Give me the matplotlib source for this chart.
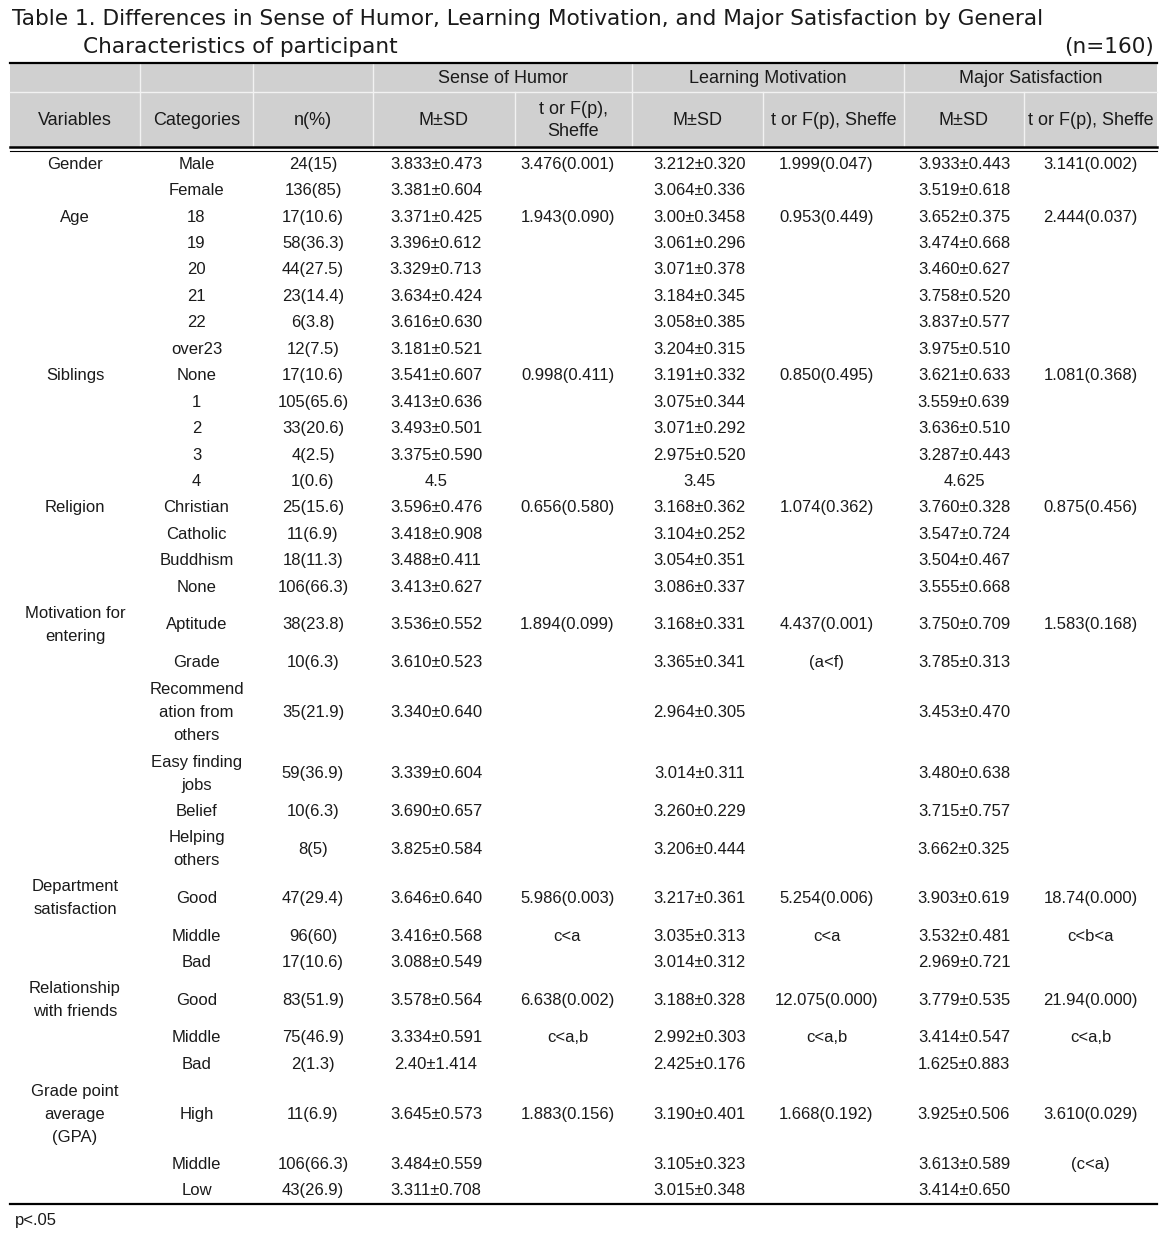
import matplotlib
matplotlib.use('Agg')
import matplotlib.pyplot as plt
from matplotlib import font_manager


# ---- data ----
group_labels = ['Gender', 'Age', 'Siblings', 'Religion', 'Motivation for\nentering',
                'Department\nsatisfaction', 'Relationship\nwith friends',
                'Grade point\naverage\n(GPA)']
group_sizes = [2, 6, 5, 4, 6, 3, 3, 3]

categories = ['Male', 'Female',
              '18', '19', '20', '21', '22', 'over23',
              'None', '1', '2', '3', '4',
              'Christian', 'Catholic', 'Buddhism', 'None',
              'Aptitude', 'Grade', 'Recommend\nation from\nothers', 'Easy finding\njobs', 'Belief',
              'Helping\nothers',
              'Good', 'Middle', 'Bad',
              'Good', 'Middle', 'Bad',
              'High', 'Middle', 'Low']

n_pct = ['24(15)', '136(85)',
         '17(10.6)', '58(36.3)', '44(27.5)', '23(14.4)', '6(3.8)', '12(7.5)',
         '17(10.6)', '105(65.6)', '33(20.6)', '4(2.5)', '1(0.6)',
         '25(15.6)', '11(6.9)', '18(11.3)', '106(66.3)',
         '38(23.8)', '10(6.3)', '35(21.9)', '59(36.9)', '10(6.3)', '8(5)',
         '47(29.4)', '96(60)', '17(10.6)',
         '83(51.9)', '75(46.9)', '2(1.3)',
         '11(6.9)', '106(66.3)', '43(26.9)']

humor_msd = ['3.833±0.473', '3.381±0.604',
             '3.371±0.425', '3.396±0.612', '3.329±0.713', '3.634±0.424', '3.616±0.630', '3.181±0.521',
             '3.541±0.607', '3.413±0.636', '3.493±0.501', '3.375±0.590', '4.5',
             '3.596±0.476', '3.418±0.908', '3.488±0.411', '3.413±0.627',
             '3.536±0.552', '3.610±0.523', '3.340±0.640', '3.339±0.604', '3.690±0.657', '3.825±0.584',
             '3.646±0.640', '3.416±0.568', '3.088±0.549',
             '3.578±0.564', '3.334±0.591', '2.40±1.414',
             '3.645±0.573', '3.484±0.559', '3.311±0.708']

humor_test = ['3.476(0.001)', '',
              '1.943(0.090)', '', '', '', '', '',
              '0.998(0.411)', '', '', '', '',
              '0.656(0.580)', '', '', '',
              '1.894(0.099)', '', '', '', '', '',
              '5.986(0.003)', 'c<a', '',
              '6.638(0.002)', 'c<a,b', '',
              '1.883(0.156)', '', '']

learn_msd = ['3.212±0.320', '3.064±0.336',
             '3.00±0.3458', '3.061±0.296', '3.071±0.378', '3.184±0.345', '3.058±0.385', '3.204±0.315',
             '3.191±0.332', '3.075±0.344', '3.071±0.292', '2.975±0.520', '3.45',
             '3.168±0.362', '3.104±0.252', '3.054±0.351', '3.086±0.337',
             '3.168±0.331', '3.365±0.341', '2.964±0.305', '3.014±0.311', '3.260±0.229', '3.206±0.444',
             '3.217±0.361', '3.035±0.313', '3.014±0.312',
             '3.188±0.328', '2.992±0.303', '2.425±0.176',
             '3.190±0.401', '3.105±0.323', '3.015±0.348']

learn_test = ['1.999(0.047)', '',
              '0.953(0.449)', '', '', '', '', '',
              '0.850(0.495)', '', '', '', '',
              '1.074(0.362)', '', '', '',
              '4.437(0.001)', '(a<f)', '', '', '', '',
              '5.254(0.006)', 'c<a', '',
              '12.075(0.000)', 'c<a,b', '',
              '1.668(0.192)', '', '']

major_msd = ['3.933±0.443', '3.519±0.618',
             '3.652±0.375', '3.474±0.668', '3.460±0.627', '3.758±0.520', '3.837±0.577', '3.975±0.510',
             '3.621±0.633', '3.559±0.639', '3.636±0.510', '3.287±0.443', '4.625',
             '3.760±0.328', '3.547±0.724', '3.504±0.467', '3.555±0.668',
             '3.750±0.709', '3.785±0.313', '3.453±0.470', '3.480±0.638', '3.715±0.757', '3.662±0.325',
             '3.903±0.619', '3.532±0.481', '2.969±0.721',
             '3.779±0.535', '3.414±0.547', '1.625±0.883',
             '3.925±0.506', '3.613±0.589', '3.414±0.650']

major_test = ['3.141(0.002)', '',
              '2.444(0.037)', '', '', '', '', '',
              '1.081(0.368)', '', '', '', '',
              '0.875(0.456)', '', '', '',
              '1.583(0.168)', '', '', '', '', '',
              '18.74(0.000)', 'c<b<a', '',
              '21.94(0.000)', 'c<a,b', '',
              '3.610(0.029)', '(c<a)', '']

groups_top = ['Sense of Humor', 'Learning Motivation', 'Major Satisfaction']
sub_heads = ['Variables', 'Categories', 'n(%)', 'M±SD', 't or F(p),\nSheffe',
             'M±SD', 't or F(p), Sheffe', 'M±SD', 't or F(p), Sheffe']

title_1 = 'Table 1. Differences in Sense of Humor, Learning Motivation, and Major Satisfaction by General'
title_2 = 'Characteristics of participant'
n_note = '(n=160)'
foot = 'p<.05'


# ---- layout (pixels) ----
W, H = 1176, 1233
col_edges = [10, 140, 253, 373, 515, 632, 763, 904, 1024, 1157]
body_shift = [0, 0, 0, -8, -6, 2, -7, 0, 0]
y_top = 62.5
y_mid = 92
y_dbl = 147
body_top = 151
one_line = 26.44
per_line = 24.5
line_gap = 23


def has_font(name):
    try:
        font_manager.findfont(name, fallback_to_default=False)
        return True
    except Exception:
        return False


body_font = 'Liberation Sans' if has_font('Liberation Sans') else 'DejaVu Sans'
if has_font('Liberation Sans Narrow'):
    head_font, head_size = 'Liberation Sans Narrow', 15
else:
    head_font, head_size = body_font, 13
body_size = 12
ink = '#1a1a1a'

fig = plt.figure(figsize=(W / 100, H / 100), dpi=100)
ax = fig.add_axes([0, 0, 1, 1])
ax.set_xlim(0, W)
ax.set_ylim(H, 0)
ax.axis('off')


def put(x, y, s, font, size, ha='center'):
    lines = s.split('\n')
    y0 = y - (len(lines) - 1) * line_gap / 2
    for k, ln in enumerate(lines):
        ax.text(x, y0 + k * line_gap, ln, ha=ha, va='center', family=[font, 'DejaVu Sans'],
                fontsize=size, color=ink)


# title
ax.text(12, 19, title_1, ha='left', va='center', family=['DejaVu Sans'], fontsize=15.6, color=ink)
ax.text(83, 47, title_2, ha='left', va='center', family=['DejaVu Sans'], fontsize=15.6, color=ink)
ax.text(1154, 47, n_note, ha='right', va='center', family=['DejaVu Sans'], fontsize=15.6, color=ink)

# header band
ax.add_patch(plt.Rectangle((col_edges[0], y_top), col_edges[-1] - col_edges[0], y_dbl - y_top,
                           facecolor='#d0d0d0', edgecolor='none', zorder=0))
ax.plot([col_edges[0], col_edges[-1]], [y_mid, y_mid], color='#f2f2f2', lw=1)
for i, x in enumerate(col_edges[1:-1], start=1):
    y_from = y_top if i in (1, 2, 3, 5, 7) else y_mid
    ax.plot([x, x], [y_from, y_dbl], color='#f2f2f2', lw=1)
ax.plot([col_edges[0], col_edges[-1]], [y_top, y_top], color='black', lw=1.6)
ax.plot([col_edges[0], col_edges[-1]], [y_dbl, y_dbl], color='black', lw=1.8)
ax.plot([col_edges[0], col_edges[-1]], [y_dbl + 3.6, y_dbl + 3.6], color='black', lw=0.8)

for g, name in enumerate(groups_top):
    xa, xb = col_edges[3 + 2 * g], col_edges[5 + 2 * g]
    put((xa + xb) / 2, (y_top + y_mid) / 2 + 1, name, head_font, head_size)
for c, name in enumerate(sub_heads):
    xc = (col_edges[c] + col_edges[c + 1]) / 2
    put(xc, (y_mid + y_dbl) / 2 + 1, name, head_font, head_size)

# body rows
first_rows = []
k = 0
for s in group_sizes:
    first_rows.append(k)
    k += s

columns = [None, categories, n_pct, humor_msd, humor_test, learn_msd, learn_test, major_msd, major_test]
y = body_top
g = 0
for r in range(len(categories)):
    n_lines = categories[r].count('\n') + 1
    if r in first_rows:
        n_lines = max(n_lines, group_labels[g].count('\n') + 1)
    h = one_line if n_lines == 1 else per_line * n_lines
    yc = y + h / 2
    if r in first_rows:
        put((col_edges[0] + col_edges[1]) / 2, yc, group_labels[g], body_font, body_size)
        g += 1
    for c in range(1, 9):
        txt = columns[c][r]
        if txt:
            xc = (col_edges[c] + col_edges[c + 1]) / 2 + body_shift[c]
            put(xc, yc, txt, body_font, body_size)
    y += h

ax.plot([col_edges[0], col_edges[-1]], [y, y], color='black', lw=1.6)
ax.text(15, y + 16, foot, ha='left', va='center', family=[body_font], fontsize=body_size, color=ink)

fig.savefig('out.png', dpi=100)
